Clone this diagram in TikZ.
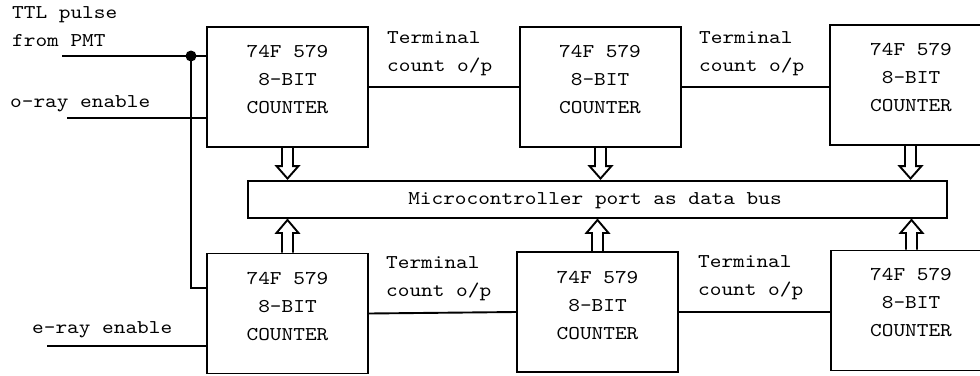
\documentclass[tikz,border=0pt]{standalone}
\usepackage{fontspec}
\setmonofont{lmmono10-regular.otf}[FakeStretch=1.14]
\usetikzlibrary{calc}

\tikzset{
  wire/.style={line width=1.9pt},
  counterbox/.style={draw, line width=1.9pt, minimum width=161pt,
    minimum height=120pt, inner sep=0pt},
  busbox/.style={draw, line width=1.9pt, minimum width=699pt,
    minimum height=37pt, inner sep=0pt},
  txt/.style={font=\ttfamily\fontsize{19.5}{23}\selectfont, inner sep=0pt},
  hollow/.style={line width=1.9pt, line join=miter},
}

% three text lines of a counter box, first baseline at (#2,#3)
\newcommand\chiplabel[3]{%
  \node[txt, anchor=base] (#1-a) at (#2,#3) {74F 579};
  \node[txt, anchor=base] (#1-b) at (#2,#3+28.5) {8-BIT};
  \node[txt, anchor=base] (#1-c) at (#2,#3+56) {COUNTER};
}
% two-line "Terminal count o/p" label, first baseline at (#2,#3)
\newcommand\tclabel[3]{%
  \node[txt, anchor=base west] (#1-a) at (#2,#3) {Terminal};
  \node[txt, anchor=base west] (#1-b) at (#2,#3+28.5) {count o/p};
}
% hollow block arrow from a box down into the bus
\newcommand\arrowdown[2]{%
  \draw[hollow] let \p1=(#1.south), \p2=(#2.north) in
    (\x1-5.5pt,\y1) -- (\x1-5.5pt,\y2+14pt) -- (\x1-11pt,\y2+14pt)
    -- (\x1,\y2+1.5pt) -- (\x1+11pt,\y2+14pt) -- (\x1+5.5pt,\y2+14pt)
    -- (\x1+5.5pt,\y1);
}
% hollow block arrow from a box up into the bus
\newcommand\arrowup[2]{%
  \draw[hollow] let \p1=(#1.north), \p2=(#2.south) in
    (\x1-5.5pt,\y1) -- (\x1-5.5pt,\y2-14pt) -- (\x1-11pt,\y2-14pt)
    -- (\x1,\y2-1pt) -- (\x1+11pt,\y2-14pt) -- (\x1+5.5pt,\y2-14pt)
    -- (\x1+5.5pt,\y1);
}

\begin{document}
\begin{tikzpicture}[x=1pt, y=-1pt]
  \useasboundingbox (0,0) rectangle (980,375);
  \fill[white] (0,0) rectangle (980,375);
  \clip (0,0) rectangle (980,375);

  % counters
  \node[counterbox] (b1) at (287.5,87) {};
  \node[counterbox] (b2) at (600.5,87) {};
  \node[counterbox] (b3) at (910.5,85) {};
  \node[counterbox] (b4) at (287.5,313.5) {};
  \node[counterbox] (b5) at (597.5,312) {};
  \node[counterbox] (b6) at (911.5,310.5) {};

  \chiplabel{t1}{287.5}{57}
  \chiplabel{t2}{600}{57}
  \chiplabel{t3}{911}{55}
  \chiplabel{t4}{287.5}{284}
  \chiplabel{t5}{597.5}{283}
  \chiplabel{t6}{911}{280}

  % data bus
  \node[busbox] (bus) at (597.5,199.5) {};
  \node[txt, anchor=base] (bustext) at (595,204) {Microcontroller port as data bus};

  % block arrows to the bus
  \arrowdown{b1}{bus}
  \arrowdown{b2}{bus}
  \arrowdown{b3}{bus}
  \arrowup{b4}{bus}
  \arrowup{b5}{bus}
  \arrowup{b6}{bus}

  % cascade connections
  \draw[wire] (b1.east) -- (b2.west);
  \draw[wire] (b2.east) -- (b2.east -| b3.west);
  \draw[wire] (b4.east) -- (b5.west);
  \draw[wire] (b5.east) -- (b5.east -| b6.west);
  \tclabel{tc1}{387}{43}
  \tclabel{tc2}{699}{43}
  \tclabel{tc3}{386}{268}
  \tclabel{tc4}{698}{267}

  % inputs
  \node[txt, anchor=base west] (ttl-a) at (12,18) {TTL pulse};
  \node[txt, anchor=base west] (ttl-b) at (12,46) {from PMT};
  \node[txt, anchor=base west] (oray) at (10,107) {o-ray enable};
  \node[txt, anchor=base west] (eray) at (32,333) {e-ray enable};

  \coordinate (ttlin) at (62,56);
  \coordinate (junc) at (191,56);
  \coordinate (jbend) at (191,288);
  \coordinate (oin) at (67,118);
  \coordinate (ein) at (47,346);

  \draw[wire] (ttlin) -- (junc) -- (junc -| b1.west);
  \draw[wire] (junc) -- (jbend) -- (jbend -| b4.west);
  \draw[wire] (oin) -- (oin -| b1.west);
  \draw[wire] (ein) -- (ein -| b4.west);
  \fill (junc) circle (5.5pt);
\end{tikzpicture}
\end{document}
